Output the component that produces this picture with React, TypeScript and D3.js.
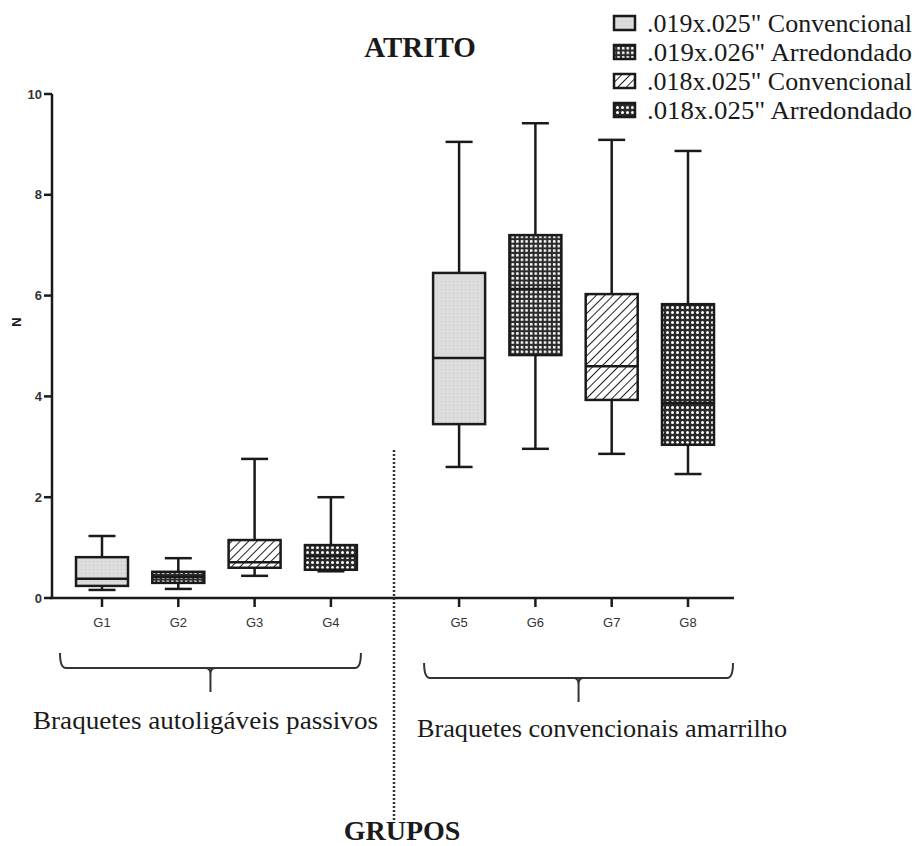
import React from "react";
import * as d3 from "d3";

const groups = ["G1", "G2", "G3", "G4", "G5", "G6", "G7", "G8"];
const whiskerLow = [0.16, 0.18, 0.44, 0.53, 2.6, 2.96, 2.86, 2.46];
const q1 = [0.24, 0.3, 0.6, 0.56, 3.45, 4.82, 3.93, 3.04];
const median = [0.38, 0.42, 0.71, 0.83, 4.76, 6.13, 4.6, 3.87];
const q3 = [0.81, 0.52, 1.15, 1.05, 6.45, 7.2, 6.03, 5.83];
const whiskerHigh = [1.23, 0.79, 2.76, 2.0, 9.05, 9.42, 9.09, 8.87];
const patternIndex = [0, 1, 2, 3, 0, 1, 2, 3];
const yTicks = [0, 2, 4, 6, 8, 10];
const legendLabels = [
  '.019x.025" Convencional',
  '.019x.026" Arredondado',
  '.018x.025" Convencional',
  '.018x.025" Arredondado',
];
const clusterLabels = ["Braquetes autoligáveis passivos", "Braquetes convencionais amarrilho"];
const title = "ATRITO";
const xTitle = "GRUPOS";
const yTitle = "N";

const W = 919;
const H = 846;
const ink = "#1a1a1a";
const serif = "Liberation Serif, Times New Roman, serif";
const sans = "Liberation Sans, Arial, sans-serif";

export default function App() {
  const y = d3.scaleLinear().domain([0, 10]).range([598, 94]);
  const gap = 0.68;
  const slot = (i: number) => i + (i >= 4 ? gap : 0);
  const x = d3.scaleLinear().domain([0, 7 + gap]).range([102, 688]);
  const boxW = 52;
  const capW = 27;
  const fills = ["url(#pLight)", "url(#pCheck)", "url(#pHatch)", "url(#pDots)"];

  const brace = (x0: number, x1: number, yLine: number, yTop: number, yTip: number) => {
    const p = d3.path();
    const xm = (x0 + x1) / 2;
    p.moveTo(x0, yTop);
    p.quadraticCurveTo(x0, yLine, x0 + 6, yLine);
    p.lineTo(x1 - 6, yLine);
    p.quadraticCurveTo(x1, yLine, x1, yTop);
    p.moveTo(xm - 5, yLine);
    p.quadraticCurveTo(xm, yLine, xm, yLine + 6);
    p.lineTo(xm, yTip);
    p.moveTo(xm + 5, yLine);
    p.quadraticCurveTo(xm, yLine, xm, yLine + 6);
    return p.toString();
  };

  const leftX0 = x(slot(0)) - 42;
  const leftX1 = x(slot(3)) + 30;
  const rightX0 = x(slot(4)) - 35;
  const rightX1 = x(slot(7)) + 45;

  return (
    <svg width={W} height={H} style={{ position: "absolute", left: 0, top: 0, background: "#fff" }}>
      <defs>
        <pattern id="pLight" width="4" height="4" patternUnits="userSpaceOnUse">
          <rect width="4" height="4" fill="#dcdcdc" />
          <rect x="1" y="1" width="1" height="1" fill="#c8c8c8" />
        </pattern>
        <pattern id="pCheck" width="4.6" height="4.6" patternUnits="userSpaceOnUse">
          <rect width="4.6" height="4.6" fill="#2a2a2a" />
          <rect x="0.9" y="0.9" width="2.6" height="2.6" rx="0.6" fill="#fff" />
        </pattern>
        <pattern id="pHatch" width="6" height="6" patternUnits="userSpaceOnUse" patternTransform="rotate(45)">
          <rect width="6" height="6" fill="#fff" />
          <line x1="0" y1="0" x2="0" y2="6" stroke="#222" strokeWidth="2" />
        </pattern>
        <pattern id="pDots" width="5" height="5" patternUnits="userSpaceOnUse">
          <rect width="5" height="5" fill="#2a2a2a" />
          <circle cx="2.5" cy="2.5" r="1.5" fill="#fff" />
        </pattern>
      </defs>

      {/* title */}
      <text x={420} y={57} textAnchor="middle" fontFamily={serif} fontWeight="bold" fontSize={29} fill={ink}>
        {title}
      </text>

      {/* legend */}
      {legendLabels.map((l, i) => (
        <g key={l}>
          <rect x={614} y={16 + i * 29} width={21} height={14} fill={fills[i]} stroke={ink} strokeWidth={2.5} />
          <text x={647} y={32 + i * 29} fontFamily={serif} fontSize={25} fill={ink} textLength={265} lengthAdjust="spacingAndGlyphs">
            {l}
          </text>
        </g>
      ))}

      {/* y axis */}
      <line x1={52} x2={52} y1={y(10)} y2={y(0) + 1} stroke={ink} strokeWidth={2.5} />
      {yTicks.map((t) => (
        <g key={t}>
          <line x1={44} x2={52} y1={y(t)} y2={y(t)} stroke={ink} strokeWidth={2.5} />
          <text x={42} y={y(t) + 4.5} textAnchor="end" fontFamily={sans} fontWeight="bold" fontSize={13} fill="#333">
            {t}
          </text>
        </g>
      ))}
      <text transform={`translate(21,322) rotate(-90)`} textAnchor="middle" fontFamily={sans} fontWeight="bold" fontSize={13} fill={ink}>
        {yTitle}
      </text>

      {/* x axis */}
      <line x1={50} x2={734} y1={y(0)} y2={y(0)} stroke={ink} strokeWidth={2.5} />
      {groups.map((g, i) => (
        <g key={g}>
          <line x1={x(slot(i))} x2={x(slot(i))} y1={y(0)} y2={y(0) + 9} stroke={ink} strokeWidth={2.5} />
          <text x={x(slot(i))} y={627} textAnchor="middle" fontFamily={sans} fontSize={13} fill="#333">
            {g}
          </text>
        </g>
      ))}

      {/* boxes */}
      {groups.map((g, i) => {
        const cx = x(slot(i));
        return (
          <g key={g} stroke={ink} strokeWidth={2.5}>
            <line x1={cx} x2={cx} y1={y(whiskerHigh[i])} y2={y(q3[i])} />
            <line x1={cx} x2={cx} y1={y(q1[i])} y2={y(whiskerLow[i])} />
            <line x1={cx - capW / 2} x2={cx + capW / 2} y1={y(whiskerHigh[i])} y2={y(whiskerHigh[i])} />
            <line x1={cx - capW / 2} x2={cx + capW / 2} y1={y(whiskerLow[i])} y2={y(whiskerLow[i])} />
            <rect x={cx - boxW / 2} y={y(q3[i])} width={boxW} height={y(q1[i]) - y(q3[i])} fill={fills[patternIndex[i]]} />
            <line x1={cx - boxW / 2} x2={cx + boxW / 2} y1={y(median[i])} y2={y(median[i])} />
          </g>
        );
      })}

      {/* divider */}
      <line x1={394} x2={394} y1={450} y2={820} stroke="#333" strokeWidth={2.5} strokeDasharray="2 2" />

      {/* braces */}
      <path d={brace(leftX0, leftX1, 668, 653, 692)} fill="none" stroke="#333" strokeWidth={2} />
      <path d={brace(rightX0, rightX1, 678, 663, 702)} fill="none" stroke="#333" strokeWidth={2} />

      <text x={33} y={729} fontFamily={serif} fontSize={25} fill={ink} textLength={345} lengthAdjust="spacingAndGlyphs">
        {clusterLabels[0]}
      </text>
      <text x={417} y={737} fontFamily={serif} fontSize={25} fill={ink} textLength={370} lengthAdjust="spacingAndGlyphs">
        {clusterLabels[1]}
      </text>

      <text x={402} y={840} textAnchor="middle" fontFamily={serif} fontWeight="bold" fontSize={28} fill={ink}>
        {xTitle}
      </text>
    </svg>
  );
}
